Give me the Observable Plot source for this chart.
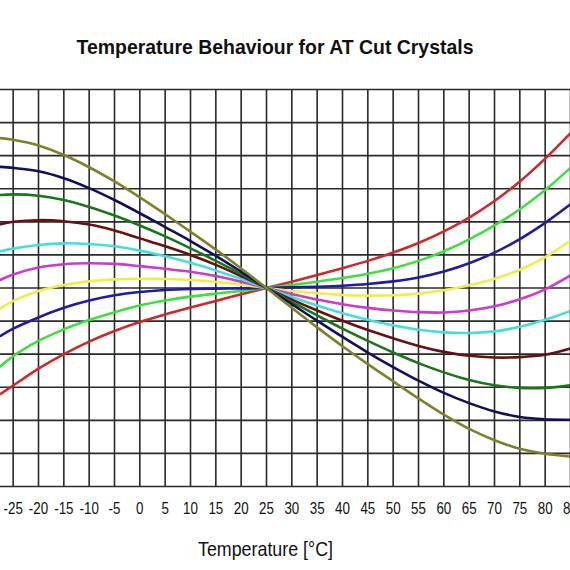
<!DOCTYPE html>
<html>
<head>
<meta charset="utf-8">
<script src="https://cdn.jsdelivr.net/npm/d3@7"></script>
<script src="https://cdn.jsdelivr.net/npm/@observablehq/plot@0.6"></script>
<style>
  html, body { margin: 0; padding: 0; background: white; overflow: hidden; width: 570px; height: 570px; }
  #title { box-sizing: border-box; height: 80px; padding-top: 35px; line-height: 21px; text-align: center;
           font: bold 21px "Liberation Sans", Arial, sans-serif; color: #111; white-space: nowrap; }
  #title span { display: inline-block; transform: translateX(-9.5px) scaleX(0.925); }
</style>
</head>
<body>
<div id="title"><span>Temperature Behaviour for AT Cut Crystals</span></div>
<div id="chart"></div>
<script>
const temps = [-27.5,-25,-20,-15,-10,-5,0,5,10,15,20,25,30,35,40,45,50,55,60,65,70,75,80,85];
const xTicks = [-25,-20,-15,-10,-5,0,5,10,15,20,25,30,35,40,45,50,55,60,65,70,75,80,85];
const yGrid = [-60,-50,-40,-30,-20,-10,0,10,20,30,40,50,60];
const xLabel = "Temperature [°C]";

const red       = [-32.0,-29.5,-24.4,-20.0,-16.2,-13.0,-10.3,-8.0,-5.9,-3.9,-1.9,0,1.9,3.9,6.0,8.2,10.7,13.6,17.1,21.3,26.3,32.2,39.1,46.8];
const lightGreen= [-23.7,-20.6,-16.0,-12.5,-9.7,-7.3,-5.3,-3.8,-2.6,-1.7,-0.9,0,0.9,1.9,3.0,4.3,6.0,8.2,11.1,14.7,18.9,23.8,29.6,36.3];
const blue      = [-14.5,-12.3,-8.9,-6.0,-3.8,-2.2,-1.2,-0.6,-0.3,-0.2,-0.1,0,0.2,0.4,0.7,1.2,2.0,3.2,5.0,7.5,10.7,14.8,19.7,25.3];
const yellow    = [-6.2,-3.9,-0.9,0.9,2.0,2.6,2.8,2.7,2.4,1.8,1.0,0,-0.9,-1.6,-2.1,-2.3,-2.2,-1.7,-0.7,0.8,2.8,5.5,9.3,14.3];
const magenta   = [2.5,4.1,6.2,7.2,7.5,7.3,6.6,5.8,4.9,3.6,1.9,0,-1.8,-3.5,-4.9,-6.0,-6.8,-7.3,-7.4,-6.8,-5.5,-3.4,-0.4,3.8];
const cyan      = [11.1,11.9,13.0,13.5,13.3,12.6,11.3,9.6,7.6,5.3,2.7,0,-2.7,-5.3,-7.6,-9.6,-11.3,-12.6,-13.4,-13.6,-13.1,-11.7,-9.6,-6.9];
const maroon    = [19.3,20.0,20.5,20.2,19.2,17.4,15.0,12.6,10.0,7.0,3.6,0,-3.5,-6.8,-9.9,-12.7,-15.2,-17.5,-19.3,-20.5,-21.0,-20.9,-20.2,-18.3];
const darkGreen = [28.1,28.3,27.9,26.6,24.5,21.9,18.9,15.6,12.0,8.2,4.2,0,-4.2,-8.3,-12.3,-16.0,-19.5,-22.7,-25.5,-27.8,-29.4,-30.2,-30.2,-29.4];
const navy      = [36.6,36.3,35.3,33.2,30.2,26.6,22.6,18.4,14.2,9.7,4.9,0,-4.9,-9.9,-14.8,-19.5,-23.9,-28.0,-31.7,-34.8,-37.3,-39.0,-39.7,-39.8];
const olive     = [45.3,44.8,43.1,40.2,36.5,32.2,27.4,22.3,17.0,11.6,5.9,0,-6.0,-11.9,-17.6,-23.0,-28.2,-33.4,-38.3,-42.6,-46.0,-48.6,-50.1,-50.9];

const series = [
  {values: red, color: "#d02828"},
  {values: lightGreen, color: "#3ee03e"},
  {values: blue, color: "#1c1ca8"},
  {values: yellow, color: "#eeee44"},
  {values: magenta, color: "#cc3ccc"},
  {values: cyan, color: "#44dede"},
  {values: maroon, color: "#6a1010"},
  {values: darkGreen, color: "#187818"},
  {values: navy, color: "#10105a"},
  {values: olive, color: "#80802a"}
];

const plot = Plot.plot({
  width: 570,
  height: 490,
  marginTop: 9,
  marginBottom: 84,
  marginLeft: 0,
  marginRight: 0,
  style: {fontFamily: "'Liberation Sans', Arial, sans-serif", fontSize: "16.7px", color: "#111", background: "white"},
  x: {domain: [-27.5, 85]},
  y: {domain: [-60, 60], axis: null},
  marks: [
    Plot.ruleX(xTicks, {stroke: "#2a2a2a", strokeWidth: 1.6}),
    Plot.ruleY(yGrid, {stroke: "#2a2a2a", strokeWidth: 1.6}),
    ...series.map(s => Plot.line(temps, {x: temps, y: s.values, stroke: s.color, strokeWidth: 2.6, curve: "catmull-rom", clip: true})),
    Plot.axisX(xTicks, {tickSize: 0, tickPadding: 16, label: null, tickFormat: d => `${d}`}),
    Plot.text([xLabel], {frameAnchor: "bottom", dx: -20, dy: 69, lineAnchor: "bottom", fontSize: 21, fill: "#111"})
  ]
});
document.getElementById("chart").appendChild(plot);

function condense(sel, s) {
  plot.querySelectorAll(sel).forEach(t => {
    const b = t.getBBox();
    const cx = b.x + b.width / 2;
    const tr = t.getAttribute("transform") || "";
    t.setAttribute("transform", `${tr} translate(${cx},0) scale(${s},1) translate(${-cx},0)`);
  });
}
condense("g[aria-label='x-axis tick label'] text", 0.8);
condense("g[aria-label='text'] text", 0.85);
</script>
</body>
</html>
